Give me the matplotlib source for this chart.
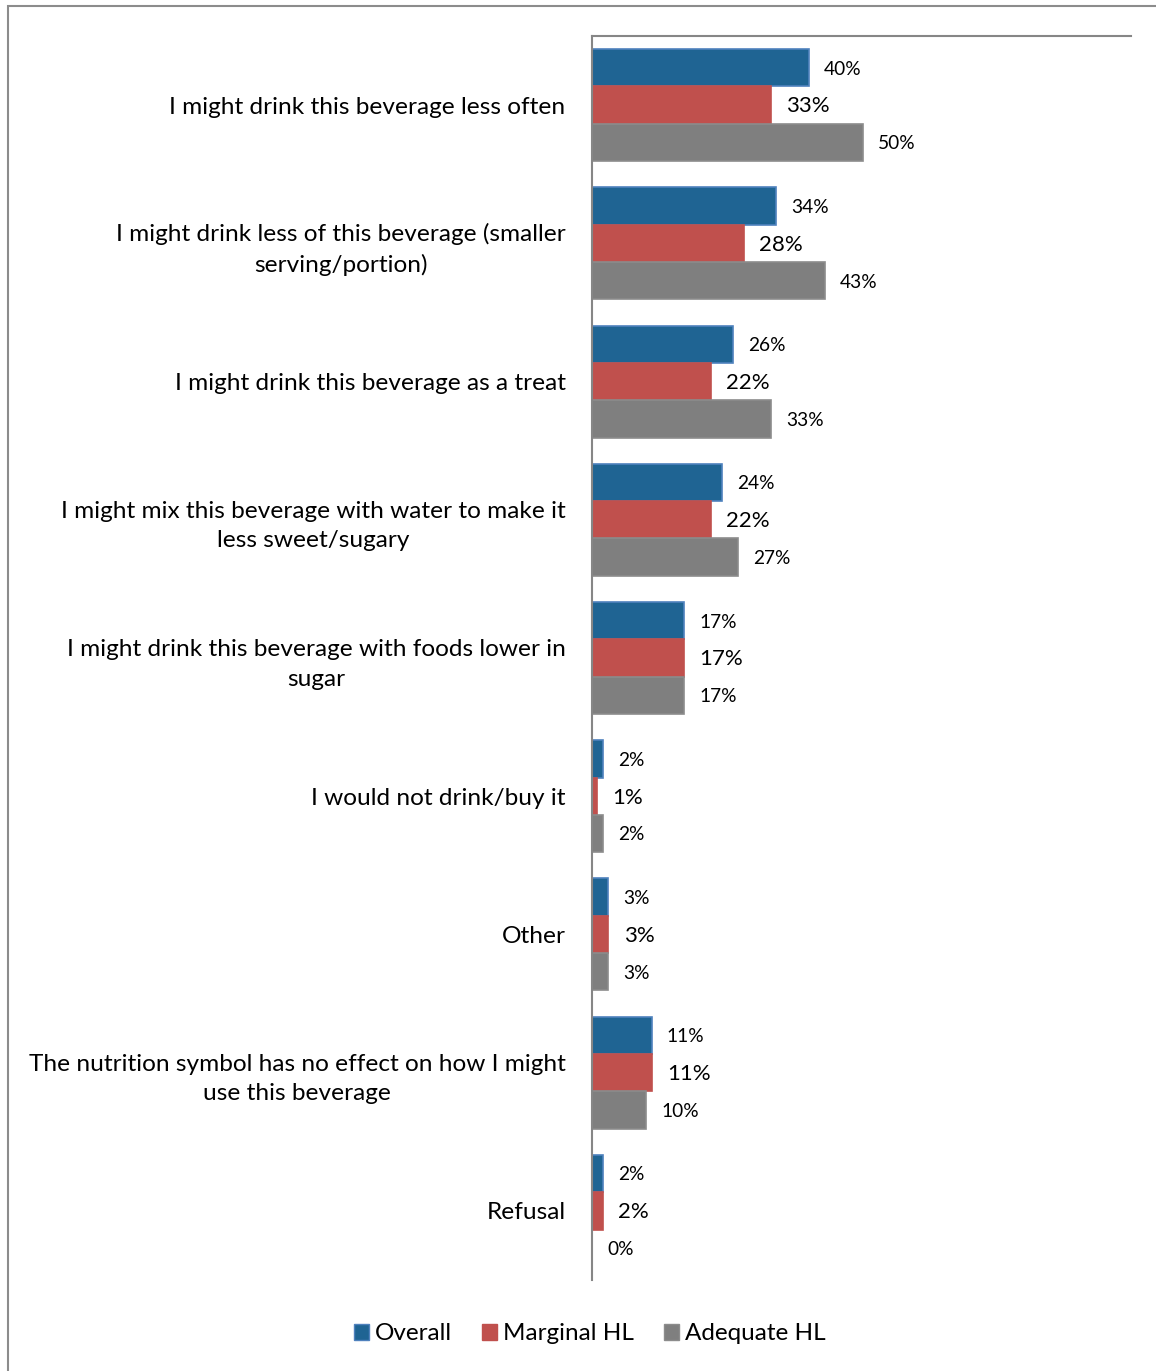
import matplotlib.pyplot as plt
import numpy as np
from matplotlib.patches import Patch, Rectangle

categories = [
    "I might drink this beverage less often",
    "I might drink less of this beverage (smaller\nserving/portion)",
    "I might drink this beverage as a treat",
    "I might mix this beverage with water to make it\nless sweet/sugary",
    "I might drink this beverage with foods lower in\nsugar",
    "I would not drink/buy it",
    "Other",
    "The nutrition symbol has no effect on how I might\nuse this beverage",
    "Refusal",
]
overall = [40, 34, 26, 24, 17, 2, 3, 11, 2]
marginal = [33, 28, 22, 22, 17, 1, 3, 11, 2]
adequate = [50, 43, 33, 27, 17, 2, 3, 10, 0]
series_names = ["Overall", "Marginal HL", "Adequate HL"]

face = ["#1F6493", "#C0504D", "#7F7F7F"]
edge = ["#4F81BD", "#C0504D", "#8C8C8C"]
label_size = [13.8, 16, 13.8]

plt.rcParams['font.family'] = ['Lato', 'DejaVu Sans']

fig = plt.figure(figsize=(11.56, 13.71), dpi=100)
ax = fig.add_axes([592 / 1156, 1 - 1280 / 1371, (1131 - 592) / 1156, (1280 - 36) / 1371])

y = np.arange(len(categories))
h = 0.27
for k, vals in enumerate([overall, marginal, adequate]):
    pos = y - h + k * h
    ax.barh(pos, vals, height=h, color=face[k], edgecolor=edge[k], linewidth=1.2)
    for p, v in zip(pos, vals):
        ax.annotate(f"{v}%", (v, p), xytext=(11, -1), textcoords="offset points",
                    ha="left", va="center", fontsize=label_size[k], color="#000000")

ax.set_xlim(0, 99.5)
ax.set_ylim(len(categories) - 0.5, -0.5)
ax.set_yticks(y)
ax.set_yticklabels(categories, fontsize=17.6, multialignment="center", linespacing=1.5)
ax.tick_params(axis="y", length=0, pad=19)
ax.set_xticks([])
for s in ["right", "bottom"]:
    ax.spines[s].set_visible(False)
for s in ["left", "top"]:
    ax.spines[s].set_color("#868686")
    ax.spines[s].set_linewidth(1.5)

handles = [Patch(facecolor=face[i], edgecolor=edge[i], label=series_names[i]) for i in range(3)]
fig.legend(handles=handles, loc="center", bbox_to_anchor=(590 / 1156, 1 - 1334 / 1371), ncol=3,
           frameon=False, fontsize=17.5, handlelength=0.6, handleheight=0.6,
           handletextpad=0.25, columnspacing=1.25)

fig.patches.append(Rectangle((8 / 1156, -0.05), 1.1, 1 - 6 / 1371 + 0.05, transform=fig.transFigure,
                             fill=False, edgecolor="#8C8C8C", linewidth=1.5, clip_on=False))

fig.savefig("out.png", dpi=100)
